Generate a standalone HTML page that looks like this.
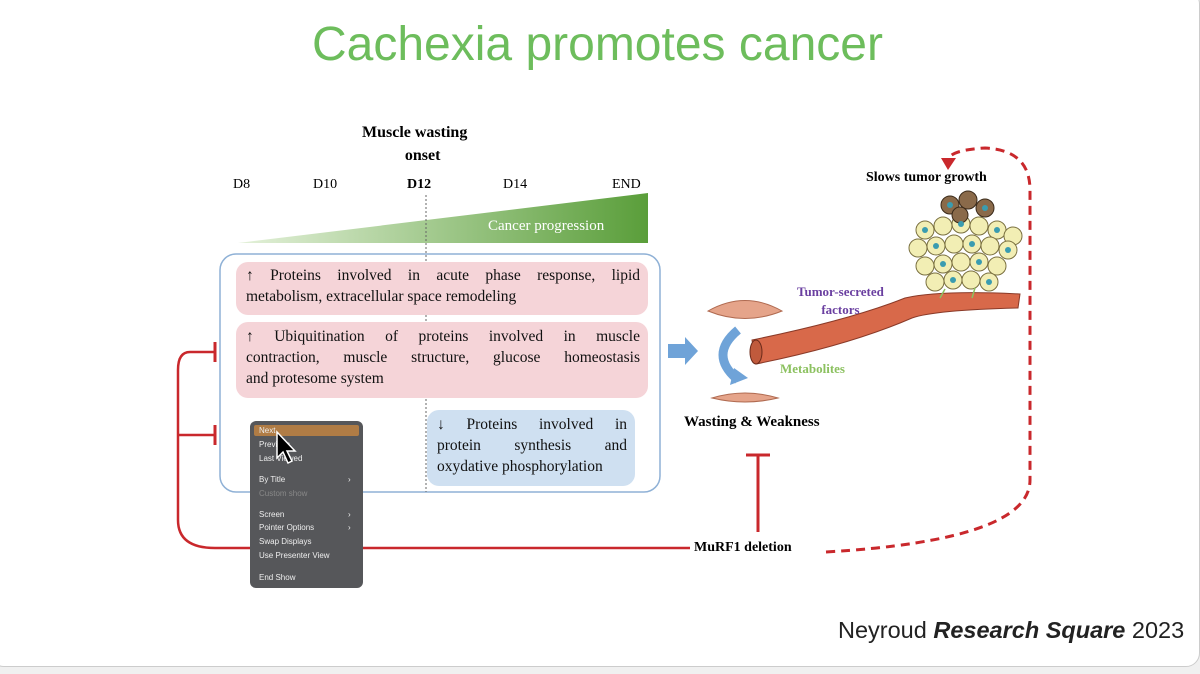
<!DOCTYPE html>
<html><head><meta charset="utf-8"><style>
body{margin:0;width:1200px;height:674px;background:#f0f0f0;overflow:hidden;position:relative;font-family:"Liberation Serif",serif}
.card{position:absolute;left:-10px;top:-10px;width:1208px;height:675px;background:#fff;border:1px solid #ccc;border-radius:14px}
.a{position:absolute;white-space:nowrap}
.box{position:absolute;border-radius:12px;font-size:15.5px;line-height:21px;color:#111}
.box div{text-align:justify;text-align-last:justify;white-space:nowrap}
.box div.l{text-align-last:left}
.menu{position:absolute;left:250px;top:421px;width:113px;height:167px;background:#56575a;border-radius:6px;font-family:"Liberation Sans",sans-serif;font-size:8px;color:#eee}
.menu div{position:absolute;left:9px}
</style></head><body>
<div class="card"></div>
<div class="a" style="left:312px;top:17px;font-family:'Liberation Sans',sans-serif;font-size:48px;color:#6dbd5c">Cachexia promotes cancer</div>
<div class="a" style="left:362px;top:121px;font-weight:bold;font-size:16px;text-align:center;line-height:23px">Muscle wasting<br>&nbsp;&nbsp;&nbsp;&nbsp;onset</div>
<div class="a" style="left:233px;top:177px;font-size:14px">D8</div>
<div class="a" style="left:313px;top:177px;font-size:14px">D10</div>
<div class="a" style="left:407px;top:177px;font-size:14px;font-weight:bold">D12</div>
<div class="a" style="left:503px;top:177px;font-size:14px">D14</div>
<div class="a" style="left:612px;top:177px;font-size:14px">END</div>
<svg class="a" style="left:0;top:0" width="1200" height="674">
<defs><linearGradient id="g" x1="0" x2="1"><stop offset="0" stop-color="#e4f1da"/><stop offset="1" stop-color="#5a9e3a"/></linearGradient></defs>
<polygon points="238,243 648,193 648,243" fill="url(#g)"/>
<rect x="220" y="254" width="440" height="238" rx="16" fill="none" stroke="#8fb1d6" stroke-width="1.5"/>
<line x1="426" y1="195" x2="426" y2="492" stroke="#666" stroke-dasharray="2,2"/>
<path d="M215,352 H190 Q178,352 178,370 V520 Q178,548 215,548 H690" fill="none" stroke="#c9282c" stroke-width="2.5"/>
<path d="M178,435 H215" stroke="#c9282c" stroke-width="2.5"/>
<path d="M215,342 V362 M215,425 V445" stroke="#c9282c" stroke-width="3"/>
<path d="M758,532 V455 M746,455 H770" stroke="#c9282c" stroke-width="3"/>
<path d="M826,552 Q1030,540 1030,480 V190 Q1030,150 985,148 Q950,150 948,160" fill="none" stroke="#c9282c" stroke-width="3" stroke-dasharray="9,6"/>
<polygon points="941,158 956,158 948,170" fill="#c9282c"/>
<polygon points="668,344 685,344 685,337 698,351 685,365 685,358 668,358" fill="#6fa3d8"/>
<path d="M738,330 Q708,355 738,380" fill="none" stroke="#6fa3d8" stroke-width="9"/>
<polygon points="730,385 748,378 734,368" fill="#6fa3d8"/>
<path d="M708,311 Q745,290 782,311 Q745,326 708,311 Z" fill="#e5a48a" stroke="#b06a50"/>
<path d="M712,398 Q745,388 778,398 Q745,406 712,398 Z" fill="#e5a48a" stroke="#b06a50"/>
<path d="M752,340 Q850,320 905,298 Q940,290 1020,294 L1018,308 Q935,310 912,318 Q850,345 756,364 Z" fill="#d8694a" stroke="#8a3a28"/>
<ellipse cx="756" cy="352" rx="6" ry="12" fill="#c05a3c" stroke="#6b2a1a"/>
<g fill="#f2eeb4" stroke="#7a7040">
<circle cx="925" cy="230" r="9"/><circle cx="943" cy="226" r="9"/><circle cx="961" cy="224" r="9"/><circle cx="979" cy="226" r="9"/><circle cx="997" cy="230" r="9"/><circle cx="1013" cy="236" r="9"/>
<circle cx="918" cy="248" r="9"/><circle cx="936" cy="246" r="9"/><circle cx="954" cy="244" r="9"/><circle cx="972" cy="244" r="9"/><circle cx="990" cy="246" r="9"/><circle cx="1008" cy="250" r="9"/>
<circle cx="925" cy="266" r="9"/><circle cx="943" cy="264" r="9"/><circle cx="961" cy="262" r="9"/><circle cx="979" cy="262" r="9"/><circle cx="997" cy="266" r="9"/>
<circle cx="935" cy="282" r="9"/><circle cx="953" cy="280" r="9"/><circle cx="971" cy="280" r="9"/><circle cx="989" cy="282" r="9"/>
</g>
<g fill="#8a6a4a" stroke="#3a2a1a"><circle cx="950" cy="205" r="9"/><circle cx="968" cy="200" r="9"/><circle cx="985" cy="208" r="9"/><circle cx="960" cy="215" r="8"/></g>
<g fill="#3a9cb0"><circle cx="925" cy="230" r="3"/><circle cx="961" cy="224" r="3"/><circle cx="997" cy="230" r="3"/><circle cx="936" cy="246" r="3"/><circle cx="972" cy="244" r="3"/><circle cx="1008" cy="250" r="3"/><circle cx="943" cy="264" r="3"/><circle cx="979" cy="262" r="3"/><circle cx="953" cy="280" r="3"/><circle cx="989" cy="282" r="3"/><circle cx="950" cy="205" r="3"/><circle cx="985" cy="208" r="3"/></g>
<path d="M945,289 L940,298 M975,288 L972,298" stroke="#8cc160" stroke-width="1.5"/>
</svg>
<div class="a" style="left:488px;top:218px;font-size:15px;color:#fff">Cancer progression</div>
<div class="box" style="left:236px;top:262px;width:394px;height:50px;background:#f5d4d8;padding:3px 8px 0 10px"><div>↑ Proteins involved in acute phase response, lipid</div><div class="l">metabolism, extracellular space remodeling</div></div>
<div class="box" style="left:236px;top:322px;width:394px;height:72px;background:#f5d4d8;padding:4px 8px 0 10px"><div>↑ Ubiquitination of proteins involved in muscle</div><div>contraction, muscle structure, glucose homeostasis</div><div class="l">and protesome system</div></div>
<div class="box" style="left:427px;top:410px;width:190px;height:72px;background:#cfe0f1;padding:4px 8px 0 10px"><div>↓ Proteins involved in</div><div>protein synthesis and</div><div class="l">oxydative phosphorylation</div></div>
<div class="a" style="left:866px;top:170px;font-size:14px;font-weight:bold">Slows tumor growth</div>
<div class="a" style="left:797px;top:283px;font-size:13px;font-weight:bold;color:#6a3fa0;text-align:center;line-height:18px">Tumor-secreted<br>factors</div>
<div class="a" style="left:780px;top:361px;font-size:13px;font-weight:bold;color:#8cc160">Metabolites</div>
<div class="a" style="left:684px;top:414px;font-size:15px;font-weight:bold">Wasting &amp; Weakness</div>
<div class="a" style="left:694px;top:540px;font-size:14px;font-weight:bold">MuRF1 deletion</div>
<div class="a" style="left:838px;top:617px;font-family:'Liberation Sans',sans-serif;font-size:23.5px;color:#222">Neyroud <b><i>Research Square</i></b> 2023</div>
<div class="menu">
<div style="left:4px;top:4px;width:105px;height:11px;background:#b07c45;border-radius:2px"></div>
<div style="top:5px">Next</div><div style="top:19px">Previous</div><div style="top:33px">Last Viewed</div>
<div style="top:54px">By Title</div><div style="top:68px;color:#888">Custom show</div>
<div style="top:89px">Screen</div><div style="top:102px">Pointer Options</div><div style="top:116px">Swap Displays</div><div style="top:130px">Use Presenter View</div>
<div style="top:152px">End Show</div>
<div style="left:98px;top:54px">›</div><div style="left:98px;top:89px">›</div><div style="left:98px;top:102px">›</div>
</div>
<svg class="a" style="left:275px;top:430px" width="24" height="36"><polygon points="2,2 2,28 8,22 13,33 17,31 12,21 20,21" fill="#000" stroke="#fff" stroke-width="1.5"/></svg>
</body></html>
